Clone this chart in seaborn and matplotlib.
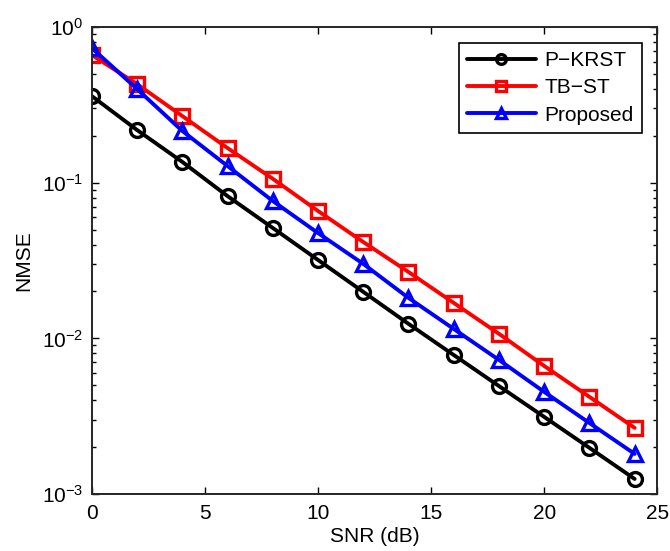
import numpy as np
import pandas as pd
import matplotlib
matplotlib.use("Agg")
import matplotlib.pyplot as plt
import seaborn as sns
from matplotlib.ticker import LogLocator, NullFormatter

snr_db = [0, 2, 4, 6, 8, 10, 12, 14, 16, 18, 20, 22, 24]
nmse_pkrst = [0.360, 0.218, 0.136, 0.082, 0.0512, 0.0319, 0.0199, 0.0124,
              0.00782, 0.00494, 0.00313, 0.00198, 0.00125]
nmse_tbst = [0.661, 0.430, 0.268, 0.167, 0.106, 0.0658, 0.0416, 0.0267,
             0.0169, 0.0107, 0.00665, 0.00421, 0.00266]
nmse_proposed = [0.733, 0.400, 0.215, 0.128, 0.0763, 0.0475, 0.0301, 0.0182,
                 0.0115, 0.00727, 0.00453, 0.00286, 0.00181]

series = [
    ("P\u2212KRST", nmse_pkrst, "black", "o"),
    ("TB\u2212ST", nmse_tbst, "red", "s"),
    ("Proposed", nmse_proposed, "blue", "^"),
]

sns.set_style("ticks")
plt.rcParams["font.family"] = ["Liberation Sans", "DejaVu Sans"]
plt.rcParams["xtick.direction"] = "in"
plt.rcParams["ytick.direction"] = "in"
plt.rcParams["text.color"] = "black"
plt.rcParams["axes.labelcolor"] = "black"
plt.rcParams["xtick.color"] = "black"
plt.rcParams["ytick.color"] = "black"

fig = plt.figure(figsize=(6.7, 5.51), dpi=100)
ax = fig.add_axes([0.137, 0.1034, 0.844, 0.8476])

for name, vals, col, mk in series:
    df = pd.DataFrame({"SNR (dB)": snr_db, "NMSE": vals})
    sns.lineplot(data=df, x="SNR (dB)", y="NMSE", ax=ax, color=col, marker=mk,
                 markersize=10, markerfacecolor="none", markeredgecolor=col,
                 markeredgewidth=2.4, linewidth=2.8, label=name)

ax.set_yscale("log")
ax.set_xlim(0, 25)
ax.set_ylim(1e-3, 1)
ax.set_xticks([0, 5, 10, 15, 20, 25])
ax.yaxis.set_minor_locator(LogLocator(base=10, subs=np.arange(2, 10)))
ax.yaxis.set_minor_formatter(NullFormatter())
ax.tick_params(which="both", top=True, right=True, labelsize=15, width=1)
ax.tick_params(axis="x", pad=7)
ax.tick_params(axis="y", pad=6)
ax.tick_params(which="major", length=5)
ax.tick_params(which="minor", length=3)
for s in ax.spines.values():
    s.set_linewidth(1.4)
ax.set_xlabel("SNR (dB)", fontsize=15, labelpad=3)
ax.set_ylabel("NMSE", fontsize=15, labelpad=6)

leg = ax.legend(loc="upper right", fontsize=15, fancybox=False, framealpha=1,
                edgecolor="black", handlelength=3.3, handletextpad=0.4,
                borderpad=0.4, labelspacing=0.4, borderaxespad=0.75,
                markerscale=0.7)
leg.get_frame().set_linewidth(1.2)

fig.savefig("out.png", dpi=100)
